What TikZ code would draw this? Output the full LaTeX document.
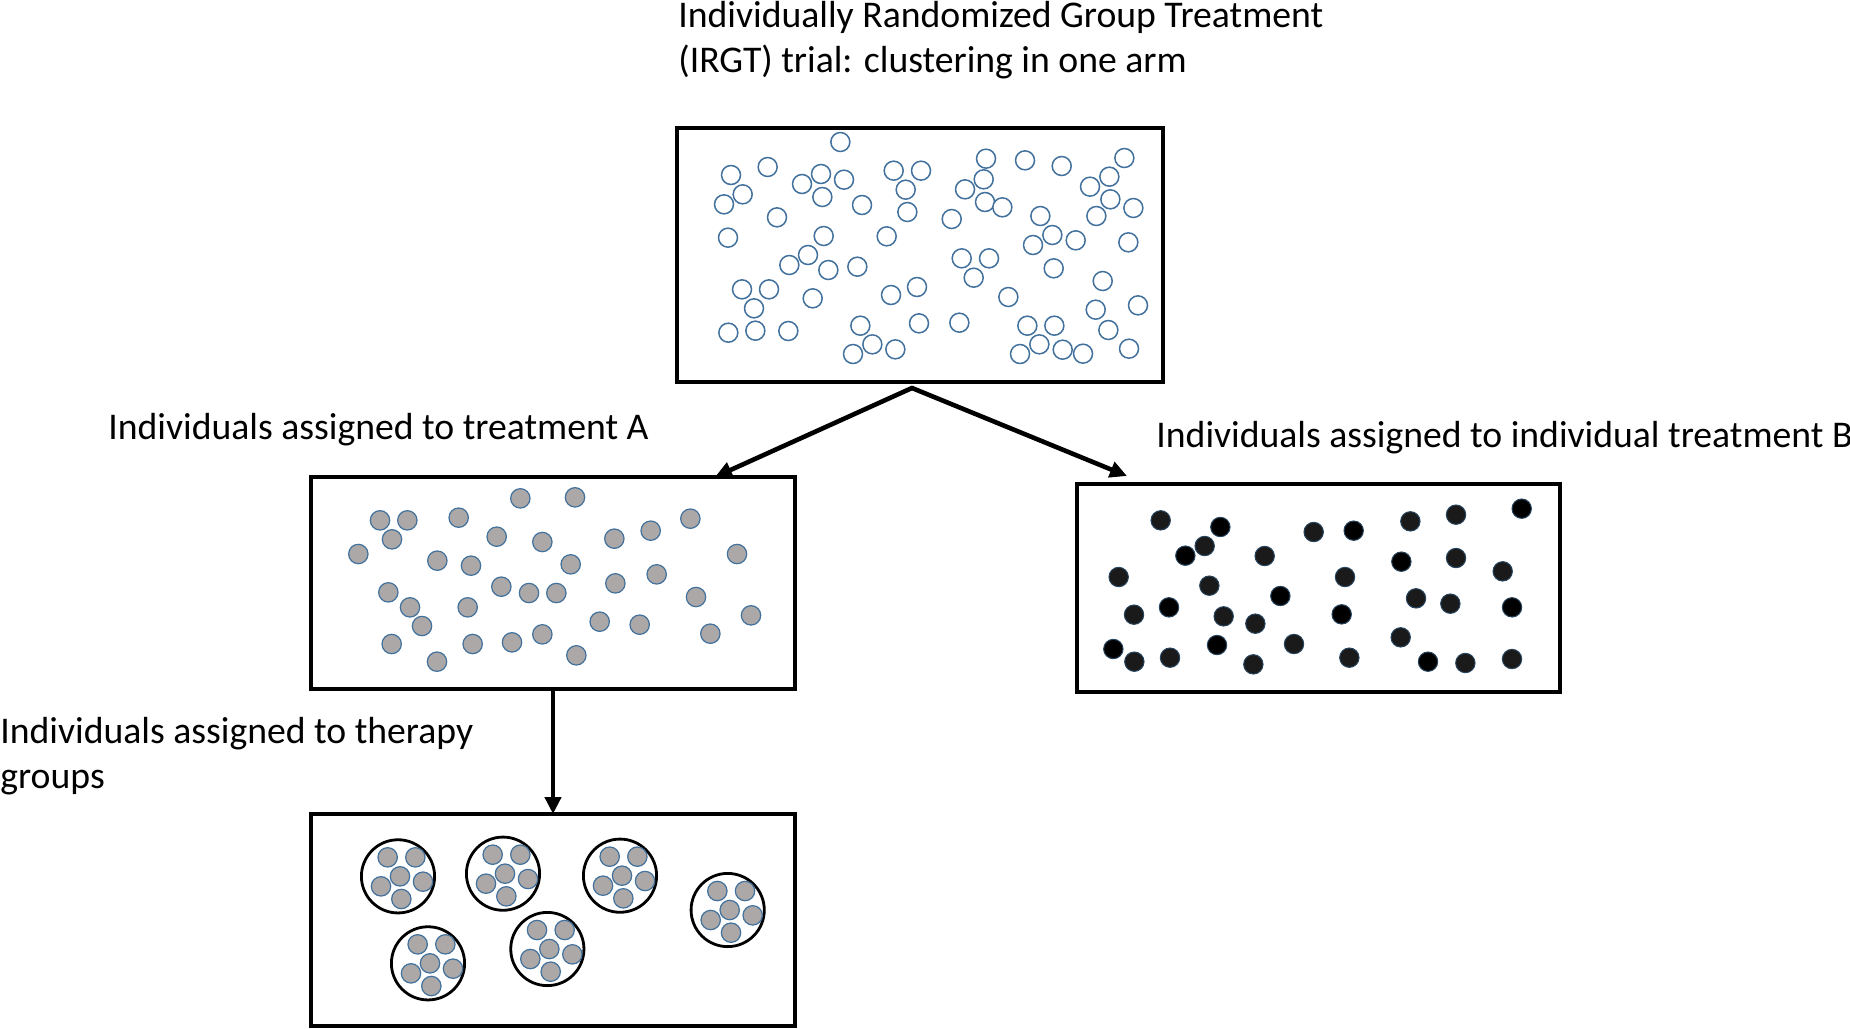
\documentclass[tikz,border=0pt]{standalone}
\usepackage{fontspec}
\setmainfont{Carlito}
\usetikzlibrary{arrows.meta,calc}
\definecolor{cblue}{HTML}{41719C}
\definecolor{cgray}{HTML}{ABA8A7}
\definecolor{cdark}{HTML}{1A1A1A}
\tikzset{
  panel/.style={draw=black, line width=1.6pt, fill=white, inner sep=0pt, outer sep=0pt},
  label/.style={anchor=base west, inner sep=0pt, font=\fontsize{18.85}{22.5}\selectfont},
  flow/.style={draw=black, line width=2.3pt, -{Triangle[length=8.5pt,width=8pt]}},
  opendot/.style={draw=cblue, line width=0.75pt, fill=white},
  graydot/.style={draw=cblue, line width=0.6pt, fill=cgray},
  blackdot/.style={draw=cblue!60!black, line width=0.5pt, fill=black},
  darkdot/.style={draw=cblue!60!black, line width=0.5pt, fill=cdark},
  groupring/.style={draw=black, line width=1.4pt},
  zoomed/.style={x=0.1666667pt, y=-0.1666667pt}
}
\begin{document}
\begin{tikzpicture}[x=0.5pt,y=-0.5pt]
\useasboundingbox (0,0) rectangle (1850,1028);

% texts
\node[label] (title1) at (678,27) {Individually Randomized Group Treatment};
\node[label] (title2) at (678,72) {(IRGT) trial: clustering in one arm};
\node[label] (labA) at (108,439) {Individuals assigned to treatment A};
\node[label] (labB) at (1156,447) {Individuals assigned to individual treatment B};
\node[label] (labG1) at (0,743) {Individuals assigned to therapy};
\node[label] (labG2) at (0,788) {groups};

% panels
\node[panel, minimum width=243pt, minimum height=127pt] (top) at (920,255) {};
\node[panel, minimum width=242pt, minimum height=106pt] (lbox) at (553,583) {};
\node[panel, minimum width=241.5pt, minimum height=104pt] (rbox) at (1318.5,588) {};
\node[panel, minimum width=242pt, minimum height=106pt] (gbox) at (553,920) {};

% connectors
\coordinate (split) at (912,388);
\coordinate (tipA) at (715,477);
\coordinate (tipB) at (1127,476);
\draw[flow, line cap=round] (split) -- (tipA);
\draw[flow, line cap=round] (split) -- (tipB);
\draw[flow] (lbox.south) -- (gbox.north);

% open circles in top panel
\begin{scope}[shift={(670,120)}, zoomed]
\foreach \x/\y in {511/66, 183/165, 293/141, 218/223, 162/253, 396/192, 453/162, 522/179, 457/231, 576/255, 321/292, 174/353, 461/348, 414/405, 358/435, 475/450, 562/440, 671/152, 753/152, 707/209, 712/276, 650/349, 845/297, 948/116, 941/178, 885/208, 945/246, 997/262, 1065/121, 1175/138, 1363/114, 1318/170, 1260/200, 1321/238, 1279/288, 1390/264, 1111/288, 1147/345, 1089/375, 1217/361, 1375/367, 875/415, 957/415, 911/473, 1151/445, 1298/483, 1015/531, 1277/569, 1404/556, 1315/630, 1377/686, 216/508, 297/508, 252/565, 428/535, 663/525, 741/501, 175/638, 256/632, 355/633, 571/617, 607/673, 549/702, 676/688, 747/610, 868/608, 1072/617, 1153/617, 1108/673, 1050/702, 1178/689, 1239/701}
  \draw[opendot] (\x,\y) circle[radius=4.75pt];
\end{scope}

% gray circles in treatment A panel
\begin{scope}[shift={(305,470)}, zoomed]
\foreach \x/\y in {646/85, 810/82, 225/151, 307/151, 461/143, 261/208, 160/252, 575/200, 712/216, 928/206, 1037/182, 1156/146, 1296/252, 397/272, 498/287, 797/283, 250/367, 315/412, 351/468, 260/522, 396/575, 589/350, 672/369, 754/369, 488/412, 503/522, 621/517, 712/493, 814/556, 931/340, 1055/313, 884/455, 1004/464, 1173/381, 1338/436, 1216/491}
  \draw[graydot] (\x,\y) circle[radius=4.85pt];
\end{scope}

% dark circles in treatment B panel
\begin{scope}[shift={(1070,478)}, zoomed]
\foreach \x/\y in {272/127, 404/204, 584/234, 731/162, 1021/130, 1158/110, 146/297, 418/323, 825/297, 1158/240, 1298/280, 192/410, 461/415, 556/437, 1038/361, 1141/377, 193/551, 300/539, 550/559, 672/498, 838/539, 992/478, 1186/555, 1326/543}
  \draw[darkdot] (\x,\y) circle[radius=4.85pt];
\foreach \x/\y in {451/147, 346/233, 851/158, 1355/92, 631/354, 994/251, 297/388, 815/409, 1326/388, 130/513, 441/501, 1074/551}
  \draw[blackdot] (\x,\y) circle[radius=4.85pt];
\end{scope}

% therapy groups
\begin{scope}[shift={(305,808)}, zoomed]
\foreach \x/\y in {279/205, 594/197, 945/203, 1268/306, 369/466, 727/423}{
  \draw[groupring] (\x,\y) circle[radius=18.3pt];
  \foreach \dx/\dy in {-31/-57, 52/-57, 6/0, -51/30, 75/16, 10/68}
    \draw[graydot] (\x+\dx,\y+\dy) circle[radius=4.85pt];
}
\end{scope}
\end{tikzpicture}
\end{document}
